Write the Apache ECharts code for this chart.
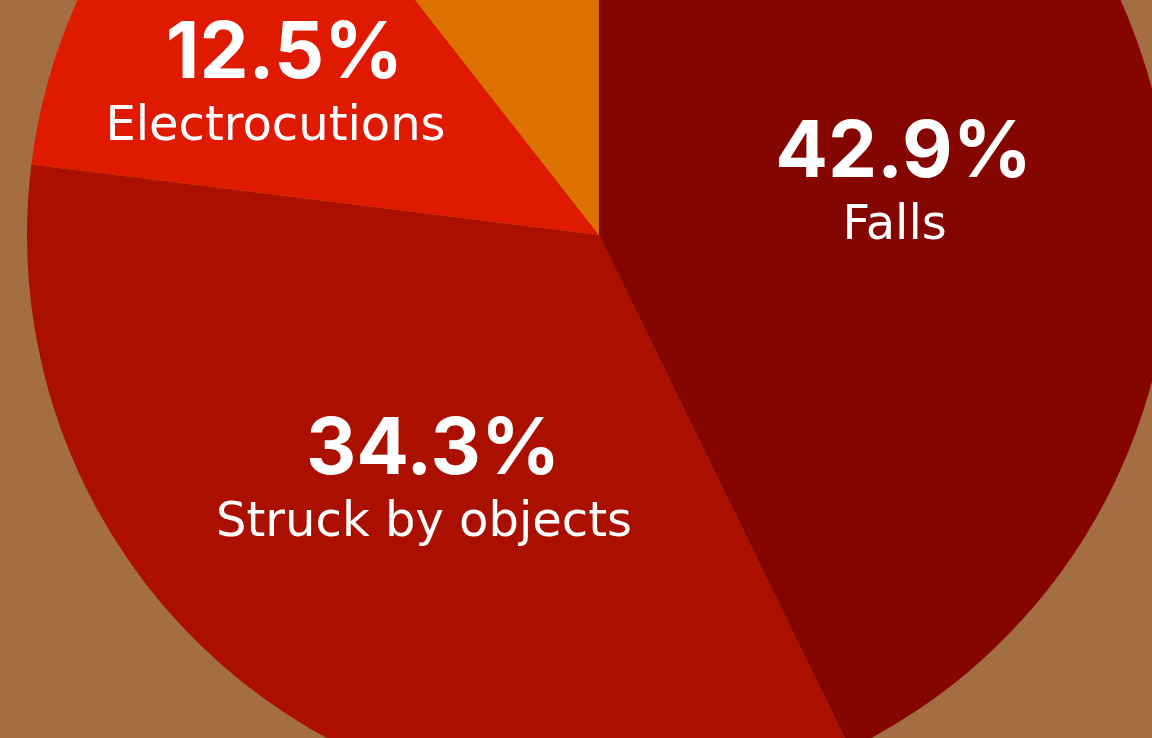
<!DOCTYPE html>
<html>
<head>
<meta charset="utf-8">
<script src="https://cdn.jsdelivr.net/npm/echarts@6/dist/echarts.min.js"></script>
<style>
html,body{margin:0;padding:0;background:#A56E42;}
#c{width:1152px;height:738px;}
</style>
</head>
<body>
<div id="c"></div>
<script>
const categories = ['Falls', 'Struck by objects', 'Electrocutions', 'Caught in/between'];
const values = [42.9, 34.3, 12.5, 10.6];
const colors = ['#850500', '#AA0F00', '#E01A00', '#DD7200'];
const showLabel = [true, true, true, false];
const labelOffsets = [[14, 15], [-7, 11], [-72, -7], [0, 0]];

const chart = echarts.init(document.getElementById('c'), null, {renderer: 'canvas'});
chart.setOption({
  backgroundColor: '#A56E42',
  animation: false,
  series: [{
    type: 'pie',
    center: [599, 235],
    radius: 572,
    startAngle: 90,
    clockwise: true,
    silent: true,
    labelLine: {show: false},
    data: categories.map((name, i) => ({
      name: name,
      value: values[i],
      itemStyle: {color: colors[i], borderWidth: 0},
      label: {show: showLabel[i], offset: labelOffsets[i]}
    })),
    label: {
      position: 'inside',
      formatter: p => '{p|' + p.value.toFixed(1) + '%}\n{n|' + p.name + '}',
      rich: {
        p: {fontFamily: 'Inter', fontWeight: 'bold', fontSize: 78, color: '#fff', lineHeight: 84, align: 'center', padding: [0, 0, 0, 18]},
        n: {fontFamily: 'DejaVu Sans', fontWeight: 'normal', fontSize: 48, color: '#fff', lineHeight: 62, align: 'center'}
      }
    }
  }]
});
</script>
</body>
</html>
